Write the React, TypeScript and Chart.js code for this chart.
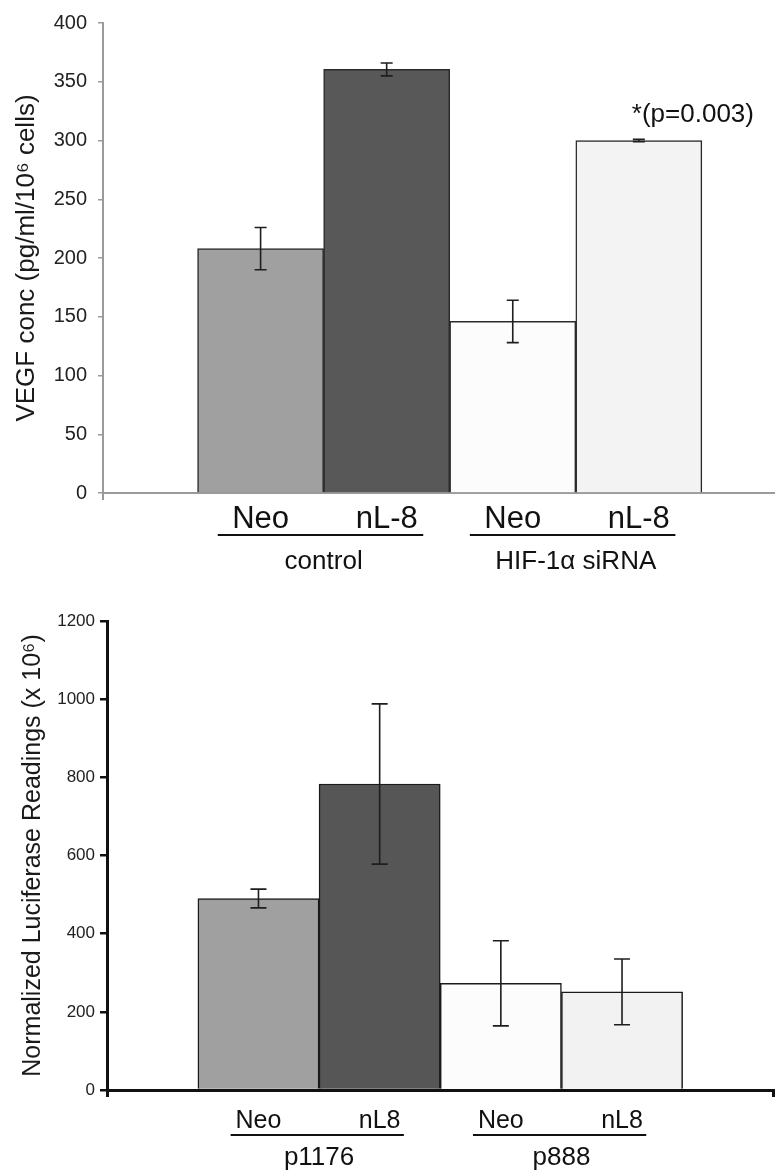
import React, { useEffect, useRef } from 'react';
import { Chart, registerables } from 'chart.js';

Chart.register(...registerables);

const FONT = '"Liberation Sans", Arial, Helvetica, sans-serif';

// ---------- Top chart: VEGF ----------
const vegfCategories = ['Neo', 'nL-8', 'Neo', 'nL-8'];
const vegfValues = [208, 360.5, 146, 300];
const vegfErrors = [18, 5.5, 18, 1];
const vegfColors = ['#a0a0a0', '#585858', '#fcfcfc', '#f3f3f3'];
const vegfGroups = ['control', 'HIF-1α siRNA'];
const vegfGroupMembers = [[0, 1], [2, 3]];
const vegfYMin = 0;
const vegfYMax = 400;
const vegfYStep = 50;
const vegfNote = '*(p=0.003)';
const vegfNoteIndex = 3;
const vegfTitle = 'VEGF conc (pg/ml/10⁶ cells)';

// ---------- Bottom chart: Luciferase ----------
const lucCategories = ['Neo', 'nL8', 'Neo', 'nL8'];
const lucValues = [490, 783, 273, 251];
const lucErrors = [24, 205, 109, 84];
const lucColors = ['#a0a0a0', '#565656', '#fcfcfc', '#f2f2f2'];
const lucGroups = ['p1176', 'p888'];
const lucGroupMembers = [[0, 1], [2, 3]];
const lucYMin = 0;
const lucYMax = 1200;
const lucYStep = 200;
const lucTitle = 'Normalized Luciferase Readings (x 10⁶)';

type Cfg = {
  categories: string[];
  values: number[];
  errors: number[];
  colors: string[];
  groups: string[];
  groupMembers: number[][];
  yMin: number;
  yMax: number;
  yStep: number;
  title: string;
  width: number;
  height: number;
  xMin: number;
  xMax: number;
  padTop: number;
  padRight: number;
  yWidth: number;
  xHeight: number;
  axisColor: string;
  borderW: number;
  yTickFont: number;
  yTickPad: number;
  yTickLen: number;
  titleFont: number;
  titlePad: number;
  xTickFont: number;
  xTickPad: number;
  endTicks: 'left' | 'both';
  barBorder: string;
  errCap: number;
  ulLeft: number;
  ulRight: number;
  ulY: number;
  groupY: number;
  groupFont: number;
  note?: string;
  noteIndex?: number;
};

function buildChart(canvas: HTMLCanvasElement, c: Cfg) {
  const overlay = {
    id: 'overlay',
    afterDatasetsDraw(chart: any) {
      const ctx = chart.ctx;
      const xs = chart.scales.x;
      const ys = chart.scales.y;
      ctx.save();
      ctx.strokeStyle = '#1e1e1e';
      ctx.lineWidth = 1.6;
      c.values.forEach((v, i) => {
        const px = xs.getPixelForValue(i);
        const t = ys.getPixelForValue(v + c.errors[i]);
        const b = ys.getPixelForValue(v - c.errors[i]);
        ctx.beginPath();
        ctx.moveTo(px, t);
        ctx.lineTo(px, b);
        ctx.moveTo(px - c.errCap, t);
        ctx.lineTo(px + c.errCap, t);
        ctx.moveTo(px - c.errCap, b);
        ctx.lineTo(px + c.errCap, b);
        ctx.stroke();
      });
      ctx.restore();
    },
    afterDraw(chart: any) {
      const ctx = chart.ctx;
      const xs = chart.scales.x;
      const ys = chart.scales.y;
      const base = chart.chartArea.bottom;
      ctx.save();
      c.groups.forEach((g, gi) => {
        const m = c.groupMembers[gi];
        const l = xs.getPixelForValue(m[0] - c.ulLeft);
        const r = xs.getPixelForValue(m[m.length - 1] + c.ulRight);
        ctx.strokeStyle = '#111';
        ctx.lineWidth = 2;
        ctx.beginPath();
        ctx.moveTo(l, base + c.ulY);
        ctx.lineTo(r, base + c.ulY);
        ctx.stroke();
        const cx = (xs.getPixelForValue(m[0]) + xs.getPixelForValue(m[m.length - 1])) / 2;
        ctx.fillStyle = '#111';
        ctx.font = `${c.groupFont}px ${FONT}`;
        ctx.textAlign = 'center';
        ctx.textBaseline = 'middle';
        ctx.fillText(g, cx, base + c.groupY);
      });
      if (c.note && c.noteIndex !== undefined) {
        const i = c.noteIndex;
        ctx.fillStyle = '#111';
        ctx.font = `26px ${FONT}`;
        ctx.textAlign = 'left';
        ctx.textBaseline = 'middle';
        ctx.fillText(c.note, xs.getPixelForValue(i) - 7, ys.getPixelForValue(c.values[i]) - 26);
      }
      ctx.restore();
    },
  };

  const tickColor = (ctx: any) => {
    const v = ctx.tick ? ctx.tick.value : null;
    if (v === c.xMin) return c.axisColor;
    if (c.endTicks === 'both' && v === c.xMax) return c.axisColor;
    return 'rgba(0,0,0,0)';
  };

  return new Chart(canvas, {
    type: 'bar',
    data: {
      datasets: [
        {
          data: c.values.map((v, i) => ({ x: i, y: v })),
          backgroundColor: c.colors,
          borderColor: c.barBorder,
          borderWidth: 1.5,
          borderSkipped: 'bottom',
          barPercentage: 1,
          categoryPercentage: 1,
        },
      ],
    },
    options: {
      animation: false,
      responsive: false,
      events: [],
      layout: { padding: { top: c.padTop, right: c.padRight, left: 0, bottom: 0 } },
      plugins: {
        legend: { display: false },
        tooltip: { enabled: false },
        title: { display: false },
      },
      scales: {
        x: {
          type: 'linear',
          offset: false,
          min: c.xMin,
          max: c.xMax,
          afterBuildTicks: (s: any) => {
            s.ticks = [c.xMin, ...c.categories.map((_, i) => i), c.xMax].map((value) => ({ value }));
          },
          afterFit: (s: any) => {
            s.height = c.xHeight;
            s.paddingLeft = 0;
            s.paddingRight = 0;
          },
          ticks: {
            autoSkip: false,
            maxRotation: 0,
            padding: c.xTickPad,
            color: '#111',
            font: { family: FONT, size: c.xTickFont },
            callback: (v: any) => {
              const i = Number(v);
              return Number.isInteger(i) && i >= 0 && i < c.categories.length ? c.categories[i] : '';
            },
          },
          grid: {
            offset: false,
            drawOnChartArea: false,
            drawTicks: true,
            tickLength: 7,
            color: tickColor,
            lineWidth: c.borderW,
          },
          border: { display: true, color: c.axisColor, width: c.borderW },
        },
        y: {
          type: 'linear',
          min: c.yMin,
          max: c.yMax,
          afterFit: (s: any) => {
            s.width = c.yWidth;
          },
          ticks: {
            stepSize: c.yStep,
            padding: c.yTickPad,
            color: '#222',
            font: { family: FONT, size: c.yTickFont },
            callback: (v: any) => String(v),
          },
          grid: {
            drawOnChartArea: false,
            drawTicks: true,
            tickLength: c.yTickLen,
            color: c.axisColor,
            lineWidth: c.borderW === 3 ? 2.5 : 1.5,
          },
          border: { display: true, color: c.axisColor, width: c.borderW },
          title: {
            display: true,
            text: c.title,
            color: '#1a1a1a',
            font: { family: FONT, size: c.titleFont },
            padding: { top: c.titlePad, bottom: 0 },
          },
        },
      },
    } as any,
    plugins: [overlay],
  });
}

const topCfg: Cfg = {
  categories: vegfCategories,
  values: vegfValues,
  errors: vegfErrors,
  colors: vegfColors,
  groups: vegfGroups,
  groupMembers: vegfGroupMembers,
  yMin: vegfYMin,
  yMax: vegfYMax,
  yStep: vegfYStep,
  title: vegfTitle,
  width: 775,
  height: 590,
  xMin: -1.25,
  xMax: 4.08,
  padTop: 18,
  padRight: 0,
  yWidth: 103,
  xHeight: 97,
  axisColor: '#9a9a9a',
  borderW: 2,
  yTickFont: 20,
  yTickPad: 11,
  yTickLen: 5,
  titleFont: 26,
  titlePad: 11,
  xTickFont: 31,
  xTickPad: 1,
  endTicks: 'left',
  barBorder: '#2a2a2a',
  errCap: 6,
  ulLeft: 0.34,
  ulRight: 0.29,
  ulY: 42,
  groupY: 69,
  groupFont: 26,
  note: vegfNote,
  noteIndex: vegfNoteIndex,
};

const bottomCfg: Cfg = {
  categories: lucCategories,
  values: lucValues,
  errors: lucErrors,
  colors: lucColors,
  groups: lucGroups,
  groupMembers: lucGroupMembers,
  yMin: lucYMin,
  yMax: lucYMax,
  yStep: lucYStep,
  title: lucTitle,
  width: 775,
  height: 584,
  xMin: -1.25,
  xMax: 4.25,
  padTop: 31,
  padRight: 1.5,
  yWidth: 107,
  xHeight: 84,
  axisColor: '#111111',
  borderW: 3,
  yTickFont: 17,
  yTickPad: 5,
  yTickLen: 7,
  titleFont: 25,
  titlePad: 18,
  xTickFont: 25,
  xTickPad: 9,
  endTicks: 'both',
  barBorder: '#1a1a1a',
  errCap: 8,
  ulLeft: 0.23,
  ulRight: 0.2,
  ulY: 45,
  groupY: 68,
  groupFont: 26,
};

function BarPanel({ cfg, top }: { cfg: Cfg; top: number }) {
  const ref = useRef<HTMLCanvasElement | null>(null);
  useEffect(() => {
    if (!ref.current) return;
    const chart = buildChart(ref.current, cfg);
    return () => chart.destroy();
  }, [cfg]);
  return (
    <div style={{ position: 'absolute', left: 0, top, width: cfg.width, height: cfg.height }}>
      <canvas ref={ref} width={cfg.width} height={cfg.height} style={{ display: 'block' }} />
    </div>
  );
}

export default function App() {
  return (
    <div style={{ position: 'absolute', left: 0, top: 0, width: 775, height: 1174, overflow: 'hidden', background: '#fff' }}>
      <BarPanel cfg={topCfg} top={0} />
      <BarPanel cfg={bottomCfg} top={590} />
    </div>
  );
}
